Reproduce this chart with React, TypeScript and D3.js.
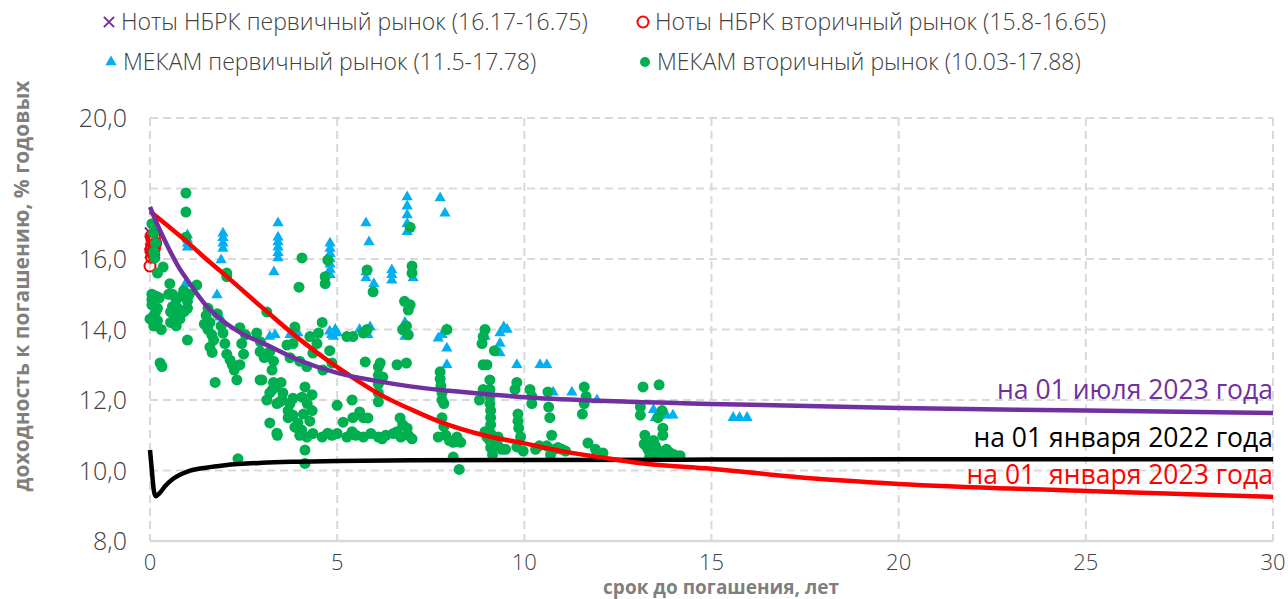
import React, { useEffect, useRef } from "react";
import * as d3 from "d3";

const xTicks = [0, 5, 10, 15, 20, 25, 30];
const yTicks = [8, 10, 12, 14, 16, 18, 20];

// yield curves: [maturity, yield]
const curveJul2023 = [
  [0, 17.48], [0.25, 16.85], [0.5, 16.3], [0.75, 15.8], [1, 15.4], [1.5, 14.68],
  [2, 14.2], [2.5, 13.86], [3, 13.62], [4, 13.12], [5, 12.77], [6, 12.55],
  [7, 12.38], [8, 12.26], [9, 12.16], [10, 12.08], [12, 11.98], [15, 11.89],
  [20, 11.77], [25, 11.7], [30, 11.63],
];
const curveJan2023 = [
  [0, 17.35], [0.5, 16.92], [1, 16.48], [1.5, 16.0], [2, 15.55], [3, 14.62],
  [4, 13.72], [4.8, 13.08], [5.5, 12.58], [6.14, 12.16], [7, 11.72], [7.75, 11.38],
  [9, 10.98], [10, 10.77], [11, 10.55], [12, 10.38], [13, 10.22], [15, 10.05],
  [17.4, 9.8], [20, 9.62], [25, 9.42], [30, 9.25],
];
const curveJan2022 = [
  [0, 10.58], [0.05, 10.0], [0.1, 9.45], [0.15, 9.27], [0.25, 9.35], [0.4, 9.55],
  [0.6, 9.75], [0.8, 9.88], [1, 9.97], [1.5, 10.08], [2, 10.15], [3, 10.22],
  [4, 10.25], [5, 10.27], [7, 10.29], [10, 10.3], [15, 10.31], [20, 10.32], [30, 10.32],
];

// scatter: [maturity, yield]
const notesPrimary = [[0.0, 16.75], [0.0, 16.17], [0.02, 16.5], [0.01, 16.3]];
const notesSecondary = [
  [0.03, 16.65], [0.05, 16.55], [0.08, 16.5], [0.1, 16.4], [0.05, 16.35], [0.12, 16.3],
  [0.07, 16.2], [0.1, 16.1], [0.04, 16.05], [0.15, 16.45], [0.12, 16.6], [0.02, 16.25],
  [0.0, 15.8],
];
const mekamPrimary = [
  [1.0, 16.68], [1.0, 16.55], [1.0, 16.45], [1.0, 16.33], [0.95, 15.3], [0.95, 15.1],
  [1.0, 14.9], [1.0, 14.7], [0.9, 14.5],
  [1.95, 16.73], [1.95, 16.6], [1.95, 16.45], [1.95, 16.3], [1.9, 15.97], [1.79, 14.98],
  [1.87, 14.35], [1.95, 14.18],
  [3.42, 17.02], [3.42, 16.62], [3.42, 16.48], [3.42, 16.33], [3.42, 16.18], [3.42, 16.03],
  [3.31, 15.63], [3.34, 13.85], [3.2, 13.8], [3.74, 13.85], [3.95, 13.9],
  [4.81, 16.45], [4.81, 16.3], [4.81, 16.15], [4.81, 16.0], [4.81, 15.85], [4.81, 15.7],
  [4.81, 15.55], [4.8, 13.95], [4.85, 13.85], [4.9, 13.8], [5.0, 13.9], [4.95, 14.0],
  [5.77, 17.02], [5.85, 16.48], [5.77, 15.63], [5.77, 15.46], [5.98, 15.3], [5.6, 14.0],
  [5.88, 14.07], [5.82, 13.85],
  [6.46, 15.69], [6.46, 15.55], [6.46, 15.4],
  [6.87, 17.76], [6.87, 17.5], [6.87, 17.25], [6.87, 17.0], [6.87, 16.77], [7.03, 15.46],
  [6.81, 14.2], [6.81, 13.8],
  [7.75, 17.73], [7.88, 17.3], [7.7, 13.75], [7.8, 13.85], [7.93, 14.0], [7.93, 13.47],
  [7.93, 13.0],
  [8.95, 13.8], [9.35, 13.9], [9.45, 14.07], [9.54, 14.0], [9.35, 13.6], [9.35, 13.33],
  [9.8, 13.0],
  [10.42, 13.0], [10.6, 13.0], [10.77, 12.22], [11.27, 12.22], [11.94, 12.0],
  [13.45, 11.72], [13.5, 11.5], [13.6, 11.55], [13.8, 11.57], [13.97, 11.57],
  [15.58, 11.5], [15.75, 11.5], [15.95, 11.5],
];
const mekamSecondary = [
  [0.05, 17.0], [0.1, 16.75], [0.15, 16.45], [0.1, 16.2], [0.13, 16.03], [0.2, 15.6],
  [0.35, 15.77], [0.53, 15.3], [0.05, 15.0], [0.15, 14.95], [0.25, 14.9], [0.05, 14.7],
  [0.2, 14.6], [0.15, 14.5], [0.1, 14.4], [0.0, 14.3], [0.2, 14.25], [0.1, 14.1],
  [0.3, 14.0], [0.05, 14.85], [0.27, 13.05], [0.32, 12.95],
  [0.96, 17.87], [0.96, 17.33], [0.96, 16.62], [0.5, 15.0], [0.6, 15.0], [0.7, 14.85],
  [0.85, 14.95], [1.0, 14.8], [0.75, 14.6], [0.9, 14.5], [0.65, 14.4], [0.8, 14.3],
  [0.55, 14.2], [0.7, 14.1], [1.0, 14.6], [1.05, 15.0], [0.9, 15.1], [1.0, 13.7],
  [1.25, 15.26], [0.55, 14.5], [0.6, 14.65],
  [1.55, 14.6], [1.5, 14.4], [1.6, 14.2], [1.55, 14.0], [1.65, 13.85], [1.7, 13.7],
  [1.6, 13.5], [1.66, 13.35], [1.74, 12.5], [1.95, 13.9], [1.9, 14.1], [2.0, 13.6],
  [2.14, 13.13], [2.05, 13.3], [2.2, 13.0], [2.32, 12.57], [2.25, 12.85], [2.05, 15.6],
  [2.05, 15.5], [1.8, 14.45], [1.45, 14.15], [2.35, 10.33],
  [2.4, 14.05], [2.45, 13.6], [2.5, 13.3], [2.4, 13.0], [2.55, 13.85], [2.94, 12.57],
  [2.94, 13.37], [3.2, 13.37], [3.26, 12.85], [3.3, 13.1], [3.12, 14.5], [2.85, 13.9],
  [2.95, 13.65], [3.05, 13.2],
  [2.99, 12.57], [3.12, 12.0], [3.3, 12.5], [3.5, 12.5], [3.26, 12.28], [3.39, 11.9],
  [3.53, 12.0], [3.2, 11.35], [3.39, 11.06], [3.74, 11.9], [3.82, 11.57], [4.06, 12.08],
  [4.2, 11.9], [4.33, 11.7], [3.95, 11.35], [4.05, 11.15], [4.19, 10.95], [3.69, 11.7],
  [3.69, 11.5], [4.1, 11.6], [4.27, 11.4], [3.2, 12.2], [3.35, 12.37], [3.55, 12.2],
  [3.47, 11.95], [3.87, 11.23], [4.0, 11.0], [3.4, 11.0], [3.82, 12.05], [4.33, 12.15],
  [4.14, 10.58], [4.14, 10.2],
  [4.35, 11.05], [4.6, 10.95], [4.86, 11.0], [5.0, 11.05], [5.26, 10.95], [5.5, 11.0],
  [5.7, 10.95], [5.9, 11.05], [6.1, 10.95], [6.3, 11.0], [6.5, 11.05], [6.7, 10.95],
  [6.9, 11.0], [7.0, 10.9], [6.2, 10.9], [5.4, 11.1], [4.75, 11.06], [6.6, 11.1],
  [5.16, 11.37], [5.4, 12.0], [5.0, 11.85], [5.6, 11.66], [5.82, 11.49], [6.68, 11.49],
  [6.87, 11.2], [5.42, 11.5], [5.7, 11.5], [6.75, 11.3],
  [3.66, 13.56], [3.74, 13.2], [3.82, 13.6], [3.87, 14.07], [4.0, 13.1], [4.19, 12.95],
  [4.14, 12.37], [4.35, 13.33], [4.46, 13.6], [4.27, 13.8], [4.5, 13.9], [4.6, 14.2],
  [4.8, 13.4], [4.86, 13.05], [4.62, 12.85], [4.06, 16.03], [3.98, 15.2], [4.75, 15.97],
  [4.68, 15.5], [4.68, 15.3],
  [5.26, 13.8], [5.42, 13.8], [5.7, 13.9], [5.8, 14.0], [5.75, 13.08], [5.8, 15.69],
  [5.96, 15.07], [6.15, 13.05], [6.22, 12.65], [6.1, 12.94], [6.1, 12.7], [6.1, 12.45],
  [6.1, 12.2], [6.1, 11.95],
  [6.75, 14.0], [6.9, 13.85], [6.85, 14.1], [6.95, 14.7], [6.9, 14.55], [6.8, 14.8],
  [6.95, 16.9], [7.0, 15.8], [7.0, 15.6], [6.6, 13.0], [6.85, 13.05],
  [7.75, 12.8], [7.75, 12.6], [7.77, 12.4], [7.8, 12.2], [7.8, 12.0], [7.85, 11.9],
  [7.8, 11.5], [7.85, 11.25], [7.9, 11.0], [8.0, 10.85], [8.1, 10.8], [8.3, 10.8],
  [8.2, 10.95], [7.93, 14.0], [8.1, 10.38], [8.26, 10.03], [7.7, 10.95],
  [8.95, 14.0], [8.9, 13.8], [8.87, 13.6], [9.2, 13.4], [8.9, 13.0], [9.0, 13.0],
  [9.08, 12.57], [9.08, 12.3], [9.08, 12.1], [9.08, 11.9], [9.1, 11.7], [9.1, 11.5],
  [9.1, 11.3], [9.1, 11.05], [9.08, 10.85], [9.1, 10.65], [9.15, 10.45], [8.8, 12.0],
  [8.9, 12.3], [8.95, 11.1], [9.0, 10.95], [9.3, 10.7], [9.4, 10.6], [9.5, 10.6],
  [9.2, 10.75], [9.3, 10.95],
  [9.8, 12.5], [9.75, 12.3], [9.83, 11.6], [9.83, 11.4], [9.85, 11.2], [9.9, 10.95],
  [9.97, 10.55], [9.8, 10.67], [10.15, 12.3], [10.2, 12.1], [10.2, 11.9], [10.3, 10.6],
  [10.4, 10.7],
  [10.63, 12.23], [10.65, 11.8], [10.68, 11.5], [10.73, 11.0], [10.6, 10.7], [10.8, 10.6],
  [10.9, 10.65], [11.0, 10.6], [11.1, 10.55], [10.7, 10.45],
  [11.6, 12.37], [11.65, 12.1], [11.6, 11.9], [11.55, 11.6], [11.7, 10.78], [11.9, 10.6],
  [12.1, 10.5],
  [13.17, 12.37], [13.6, 12.43], [13.1, 11.8], [13.1, 11.57], [13.68, 11.7], [13.57, 11.5],
  [13.7, 11.2], [13.7, 11.0], [13.22, 11.0], [13.2, 10.75], [13.3, 10.6], [13.4, 10.5],
  [13.5, 10.7], [13.6, 10.55], [13.7, 10.45], [13.8, 10.6], [13.9, 10.5], [14.0, 10.45],
  [14.16, 10.42], [13.35, 10.4], [13.6, 10.4], [13.45, 10.85],
];

const legendLabels = [
  "Ноты НБРК первичный рынок (16.17-16.75)",
  "Ноты НБРК вторичный рынок (15.8-16.65)",
  "МЕКАМ первичный рынок (11.5-17.78)",
  "МЕКАМ вторичный рынок (10.03-17.88)",
];
const curveLabels = ["на 01 июля 2023 года", "на 01 января 2022 года", "на 01  января 2023 года"];

const W = 1288;
const H = 599;
const FONT = "'Open Sans', Lato, sans-serif";

export default function App() {
  const ref = useRef<SVGSVGElement>(null);

  useEffect(() => {
    const svg = d3.select(ref.current);
    svg.selectAll("*").remove();

    const x = d3.scaleLinear().domain([0, 30]).range([150, 1273]);
    const y = d3.scaleLinear().domain([8, 20]).range([541, 118]);

    // grid
    const grid = svg.append("g");
    grid.selectAll("line.h")
      .data(yTicks.filter(t => t > 8))
      .enter().append("line")
      .attr("x1", x(0)).attr("x2", x(30))
      .attr("y1", d => y(d)).attr("y2", d => y(d))
      .attr("stroke", "#d9d9d9").attr("stroke-width", 2).attr("stroke-dasharray", "8,5");
    grid.selectAll("line.v")
      .data(xTicks)
      .enter().append("line")
      .attr("x1", d => x(d)).attr("x2", d => x(d))
      .attr("y1", y(20)).attr("y2", y(8))
      .attr("stroke", "#d9d9d9").attr("stroke-width", 2).attr("stroke-dasharray", "8,5");
    grid.append("line")
      .attr("x1", x(0)).attr("x2", x(30)).attr("y1", y(8)).attr("y2", y(8))
      .attr("stroke", "#d9d9d9").attr("stroke-width", 2.5);

    // tick labels
    svg.append("g").selectAll("text")
      .data(yTicks).enter().append("text")
      .attr("x", 127).attr("y", d => y(d)).attr("dy", "0.36em")
      .attr("text-anchor", "end").attr("font-family", FONT).attr("font-size", 25)
      .attr("font-weight", 300).attr("fill", "#404040")
      .text(d => d3.format(".1f")(d).replace(".", ","));
    svg.append("g").selectAll("text")
      .data(xTicks).enter().append("text")
      .attr("x", d => x(d)).attr("y", 562).attr("dy", "0.36em")
      .attr("text-anchor", "middle").attr("font-family", FONT).attr("font-size", 22)
      .attr("font-weight", 300).attr("fill", "#404040")
      .text(d => String(d));

    // axis titles
    svg.append("text")
      .attr("transform", "translate(29,286) rotate(-90)")
      .attr("text-anchor", "middle").attr("font-family", FONT).attr("font-weight", "bold")
      .attr("font-size", 21).attr("fill", "#7f7f7f")
      .text("доходность к погашению, % годовых");
    svg.append("text")
      .attr("x", 721).attr("y", 594)
      .attr("text-anchor", "middle").attr("font-family", FONT).attr("font-weight", "bold")
      .attr("font-size", 19).attr("fill", "#7f7f7f")
      .text("срок до погашения, лет");

    const plot = svg.append("g");
    const cross = d3.symbol().type(d3.symbolX).size(70);
    const tri = d3.symbol().type(d3.symbolTriangle).size(55);

    plot.selectAll("path.np").data(notesPrimary).enter().append("path")
      .attr("d", cross()).attr("transform", d => `translate(${x(d[0])},${y(d[1])})`)
      .attr("fill", "none").attr("stroke", "#7030a0").attr("stroke-width", 2);
    plot.selectAll("circle.ns").data(notesSecondary).enter().append("circle")
      .attr("cx", d => x(d[0])).attr("cy", d => y(d[1])).attr("r", 5.5)
      .attr("fill", "none").attr("stroke", "#ff0000").attr("stroke-width", 2);
    plot.selectAll("path.mp").data(mekamPrimary).enter().append("path")
      .attr("d", tri()).attr("transform", d => `translate(${x(d[0])},${y(d[1])})`)
      .attr("fill", "#00b0f0");
    plot.selectAll("circle.ms").data(mekamSecondary).enter().append("circle")
      .attr("cx", d => x(d[0])).attr("cy", d => y(d[1])).attr("r", 5.5)
      .attr("fill", "#00b050");

    // curves
    const line = d3.line<number[]>()
      .x(d => x(d[0])).y(d => y(d[1]))
      .curve(d3.curveMonotoneX);
    const curves: [number[][], string][] = [
      [curveJan2022, "#000000"],
      [curveJan2023, "#ff0000"],
      [curveJul2023, "#7030a0"],
    ];
    curves.forEach(([data, color]) => {
      plot.append("path").datum(data).attr("d", line)
        .attr("fill", "none").attr("stroke", color).attr("stroke-width", 4.5);
    });

    // curve labels
    const labelPos: [string, number][] = [["#7030a0", 399], ["#000000", 447], ["#ff0000", 484]];
    svg.append("g").selectAll("text")
      .data(curveLabels).enter().append("text")
      .attr("x", 1273).attr("y", (d, i) => labelPos[i][1])
      .attr("text-anchor", "end").attr("font-family", FONT).attr("font-size", 26.5)
      .attr("fill", (d, i) => labelPos[i][0])
      .style("white-space", "pre")
      .text(d => d);

    // legend
    const legend = svg.append("g").attr("font-family", FONT).attr("font-size", 23)
      .attr("font-weight", 300).attr("fill", "#404040");
    const legPos = [[109, 22], [643, 22], [111, 62], [645, 62]];
    legend.append("path").attr("d", cross()).attr("transform", `translate(${legPos[0][0]},${legPos[0][1]})`)
      .attr("fill", "none").attr("stroke", "#7030a0").attr("stroke-width", 2);
    legend.append("circle").attr("cx", legPos[1][0]).attr("cy", legPos[1][1]).attr("r", 5.5)
      .attr("fill", "none").attr("stroke", "#ff0000").attr("stroke-width", 2);
    legend.append("path").attr("d", tri()).attr("transform", `translate(${legPos[2][0]},${legPos[2][1]})`)
      .attr("fill", "#00b0f0");
    legend.append("circle").attr("cx", legPos[3][0]).attr("cy", legPos[3][1]).attr("r", 5)
      .attr("fill", "#00b050");
    legend.selectAll("text").data(legendLabels).enter().append("text")
      .attr("x", (d, i) => legPos[i][0] + 12).attr("y", (d, i) => legPos[i][1]).attr("dy", "0.36em")
      .text(d => d);
  }, []);

  return (
    <svg ref={ref} width={W} height={H}
      style={{ position: "absolute", left: 0, top: 0, background: "#fff" }} />
  );
}
